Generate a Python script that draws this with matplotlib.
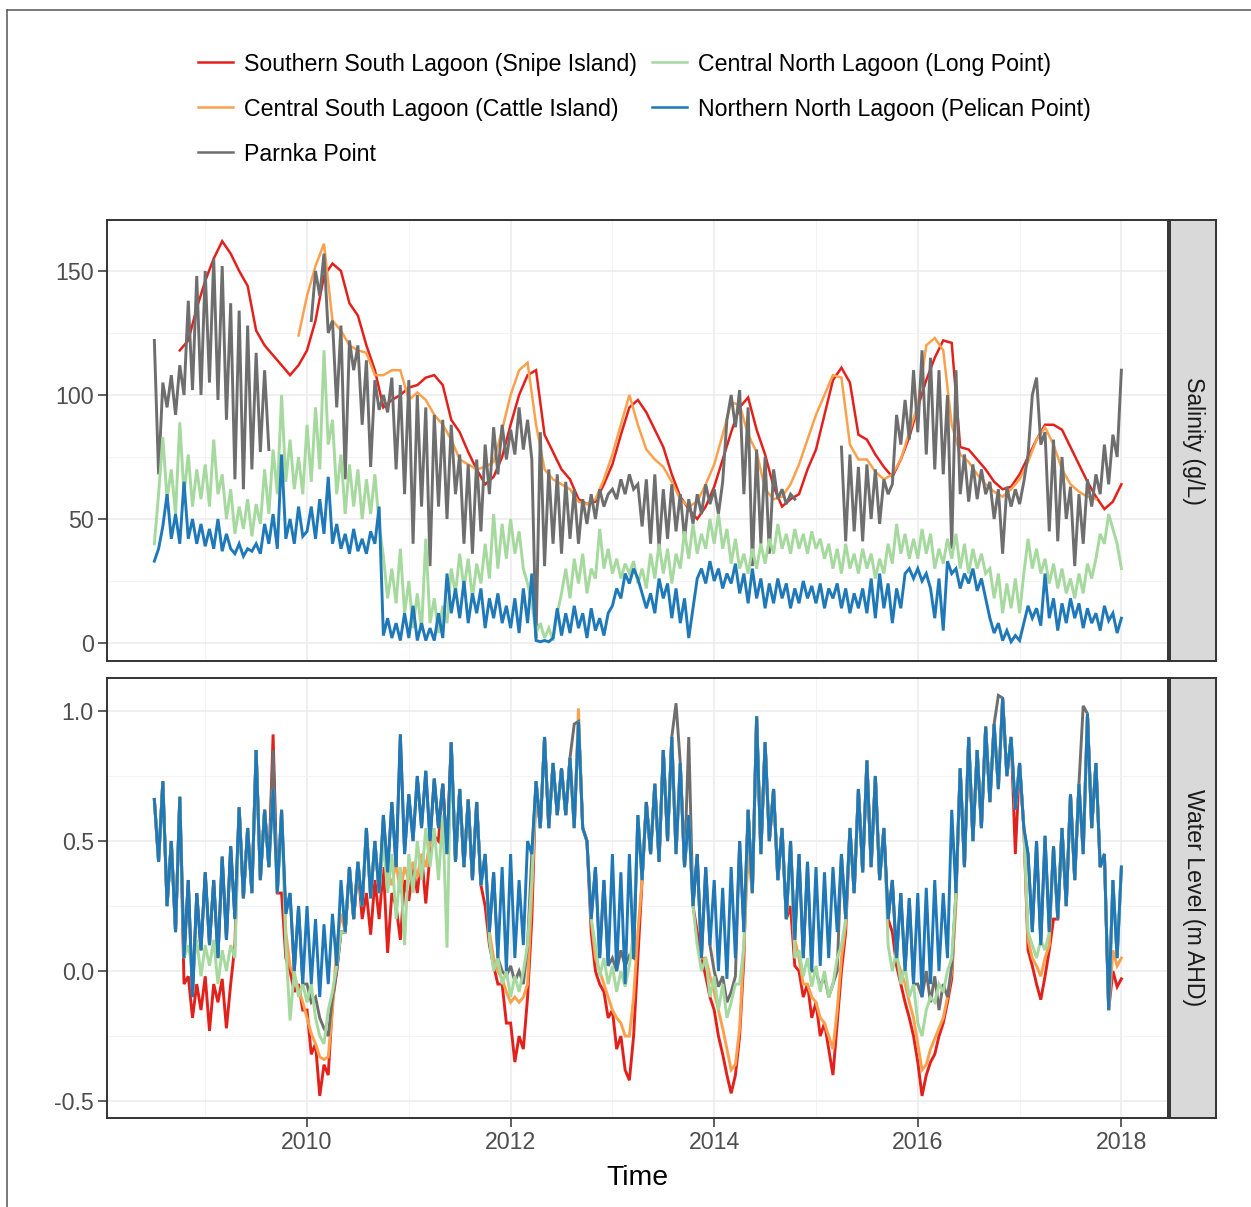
import numpy as np
import matplotlib
matplotlib.use("Agg")
import matplotlib.pyplot as plt
from matplotlib.lines import Line2D

plt.rcParams['font.family'] = ['Liberation Sans', 'DejaVu Sans']

# ---------------- data ----------------
sites = ["Southern South Lagoon (Snipe Island)",
         "Central South Lagoon (Cattle Island)",
         "Parnka Point",
         "Central North Lagoon (Long Point)",
         "Northern North Lagoon (Pelican Point)"]
site_colors = ["#E3211C", "#FBA14D", "#6E6E6E", "#A5D99E", "#1F78B8"]

# time samples (decimal years)
t_half = 2008.5 + np.arange(229) / 24.0
t_month = 2008.5 + np.arange(115) / 12.0

N = None
# Salinity (g/L) - smooth series, monthly
sal_snipe = [N, N, N, 118, 122, 135,
             146, 155, 162, 157, 150, 144, 126, 120, 116, 112, 108, 112,
             118, 130, 148, 153, 150, 137, 132, 120, 110, 95, 98, 100,
             103, 104, 107, 108, 104, 90, 85, 77, 70, 64, 67, 75,
             88, 100, 108, 110, 84, 77, 70, 66, 58, 56, 57, 64,
             72, 84, 95, 98, 93, 86, 79, 68, 59, 54, 50, 55,
             63, 74, 85, 95, 99, 86, 76, 63, 55, 58, 60, 70,
             78, 92, 106, 111, 105, 84, 82, 76, 71, 67, 74, 83,
             95, 106, 115, 122, 121, 79, 78, 74, 70, 65, 62, 63,
             68, 75, 82, 88, 88, 86, 79, 72, 65, 59, 54, 57,
             64]
sal_cattle = [N, N, N, N, N, N,
              N, N, N, N, N, N, N, N, N, N, N, 124,
              140, 152, 161, 130, 126, 120, 118, 117, 108, 108, 110, 110,
              98, 101, 98, 92, 88, 82, 74, 72, 70, 71, 73, 86,
              100, 110, 113, 88, 70, 66, 64, 62, 57, 56, 58, 66,
              76, 88, 100, 88, 78, 74, 71, 65, 58, 55, 57, 64,
              72, 84, 97, 96, 84, 77, 62, 58, 59, 64, 72, 82,
              92, 100, 108, 107, 80, 74, 74, 69, 66, 68, 74, 85,
              96, 120, 123, 118, 88, 76, 73, 68, 64, 61, 59, 62,
              66, 73, 82, 87, 80, 70, 64, 61, 59, 58, N, N,
              N]
# Salinity - noisy series, half-monthly
sal_parnka = [122, 68, 105, 95, 108, 92, 112, 100, 138, 102, 148, 100,
              150, 105, 155, 98, 152, 90, 137, 66, 134, 62, 128, 70, 117, 77, 110, 78, N, N, N, N, N, N, N, N,
              N, 130, 150, 140, 157, 125, 130, 95, 128, 66, 122, 110, 120, 88, 114, 71, 106, 94, 100, 93, 107, 70, 104, 60,
              106, 40, 100, 55, 95, 31, 92, 55, 90, 50, 88, 60, 76, 40, 72, 36, 74, 45, 80, 60, 87, 68, 88, 74,
              86, 76, 95, 78, 90, 74, 2, 85, 31, 70, 40, 68, 36, 65, 42, 62, 40, 58, 48, 60, 50, 62, 55, 60,
              62, 58, 66, 60, 68, 62, 64, 47, 66, 40, 68, 38, 62, 42, 64, 45, 60, 42, 58, 48, 60, 52, 64, 56,
              62, 52, 65, 90, 100, 87, 102, 60, 95, 31, 78, 40, 75, 36, 70, 58, 62, 56, 60, 58, N, N, N, N,
              N, N, N, N, N, N, 79, 41, 76, 45, 71, 41, 72, 50, 70, 48, 66, 60, 64, 92, 80, 98, 82, 110,
              85, 118, 76, 115, 70, 110, 68, 100, 38, 110, 60, 76, 57, 72, 58, 70, 60, 65, 50, 62, 36, 63, 55, 62,
              56, 65, 76, 100, 107, 80, 85, 45, 82, 41, 75, 50, 63, 31, 60, 40, 66, 55, 68, 60, 80, 64, 84, 75,
              110]
sal_long = [40, 60, 83, 58, 70, 52, 89, 60, 76, 55, 70, 58,
            72, 55, 82, 60, 68, 50, 62, 44, 55, 46, 58, 43, 56, 48, 70, 52, 78, 60, 100, 65, 82, 62, 75, 60,
            88, 65, 95, 70, 118, 80, 90, 60, 76, 52, 72, 55, 70, 50, 66, 52, 68, 48, 35, 18, 30, 16, 38, 12,
            25, 6, 20, 5, 42, 8, 18, 4, 15, 8, 30, 20, 36, 22, 34, 18, 32, 24, 40, 26, 52, 30, 48, 34,
            50, 36, 45, 30, 24, 16, 4, 8, 2, 6, 1, 12, 20, 30, 18, 34, 24, 36, 20, 30, 26, 46, 30, 38,
            28, 34, 26, 32, 28, 33, 24, 30, 22, 36, 26, 40, 28, 38, 24, 36, 30, 45, 34, 48, 36, 44, 38, 50,
            40, 52, 38, 46, 32, 42, 30, 36, 28, 38, 30, 40, 32, 42, 36, 48, 38, 44, 36, 46, 38, 44, 36, 45,
            38, 42, 34, 40, 30, 38, 28, 40, 30, 36, 28, 38, 30, 36, 26, 34, 28, 40, 32, 48, 36, 44, 34, 42,
            34, 46, 36, 44, 30, 38, 32, 42, 34, 44, 30, 40, 28, 38, 30, 36, 28, 30, 18, 28, 12, 24, 14, 26,
            12, 28, 42, 30, 38, 28, 34, 24, 32, 22, 30, 20, 26, 18, 28, 20, 32, 26, 34, 44, 40, 52, 46, 40,
            30]
sal_pelican = [33, 38, 47, 60, 42, 52, 40, 65, 42, 50, 40, 48,
               39, 46, 38, 50, 37, 44, 38, 36, 40, 35, 38, 37, 40, 36, 48, 40, 52, 38, 76, 42, 50, 40, 55, 43,
               45, 55, 42, 58, 44, 67, 40, 48, 38, 44, 36, 46, 37, 42, 36, 45, 40, 55, 3, 10, 2, 8, 1, 12,
               2, 15, 1, 8, 1, 6, 1, 12, 2, 28, 12, 22, 10, 25, 8, 20, 12, 22, 6, 18, 10, 20, 8, 15,
               6, 18, 4, 22, 8, 28, 1, 0.5, 1, 0.5, 2, 14, 3, 12, 4, 15, 6, 12, 2, 14, 5, 10, 3, 12,
               15, 22, 18, 28, 24, 30, 26, 20, 14, 20, 12, 26, 18, 24, 10, 22, 8, 18, 2, 14, 26, 30, 24, 33,
               25, 30, 22, 28, 24, 32, 20, 28, 16, 30, 18, 26, 14, 24, 16, 26, 18, 24, 14, 22, 16, 25, 18, 23,
               16, 24, 14, 22, 18, 24, 14, 22, 12, 20, 14, 22, 12, 26, 10, 28, 14, 24, 8, 22, 14, 28, 30, 26,
               30, 25, 28, 22, 10, 26, 5, 33, 28, 30, 22, 28, 24, 30, 21, 26, 18, 10, 4, 8, 1, 5, 0.5, 3,
               1, 8, 15, 10, 14, 7, 28, 10, 18, 5, 16, 8, 18, 10, 16, 6, 14, 8, 12, 5, 15, 9, 12, 4,
               10]

# Water level (m AHD), half-monthly
wl_snipe = [0.66, 0.42, 0.73, 0.25, 0.50, 0.15, 0.67, -0.05, -0.02, -0.18, -0.05, -0.15,
            -0.02, -0.23, -0.05, -0.12, -0.03, -0.22, -0.05, 0.10, 0.63, 0.28, 0.55, 0.30, 0.85, 0.35, 0.62, 0.40, 0.91, 0.30, 0.30, 0.05, 0.00, -0.08, -0.05, -0.15,
            -0.15, -0.32, -0.28, -0.48, -0.36, -0.40, -0.12, 0.00, 0.15, 0.15, 0.40, 0.20, 0.40, 0.20, 0.30, 0.14, 0.35, 0.20, 0.40, 0.07, 0.30, 0.25, 0.12, 0.35,
            0.27, 0.40, 0.30, 0.45, 0.26, 0.45, 0.52, 0.50, 0.72, 0.45, 0.88, 0.42, 0.70, 0.40, 0.66, 0.35, 0.65, 0.33, 0.25, 0.10, 0.02, -0.05, -0.05, -0.20,
            -0.20, -0.35, -0.25, -0.30, -0.10, 0.20, 0.73, 0.55, 0.90, 0.55, 0.80, 0.60, 0.78, 0.60, 0.82, 0.55, 0.96, 0.55, 0.50, 0.15, 0.00, -0.05, -0.08, -0.18,
            -0.15, -0.30, -0.25, -0.38, -0.42, -0.25, 0.05, 0.35, 0.65, 0.45, 0.72, 0.42, 0.85, 0.50, 0.90, 0.45, 0.80, 0.40, 0.60, 0.25, 0.15, 0.05, -0.02, -0.10,
            -0.15, -0.25, -0.32, -0.40, -0.47, -0.40, -0.25, 0.05, 0.62, 0.30, 0.98, 0.45, 0.88, 0.50, 0.70, 0.35, 0.55, 0.20, 0.25, 0.02, 0.00, -0.10, -0.05, -0.18,
            -0.12, -0.25, -0.20, -0.30, -0.40, -0.20, 0.00, 0.15, 0.55, 0.30, 0.70, 0.38, 0.81, 0.40, 0.75, 0.35, 0.55, 0.20, 0.15, 0.02, -0.05, -0.12, -0.18, -0.25,
            -0.35, -0.48, -0.40, -0.35, -0.32, -0.25, -0.20, -0.12, -0.03, 0.30, 0.78, 0.40, 0.90, 0.50, 0.85, 0.55, 0.94, 0.65, 0.95, 0.70, 1.05, 0.75, 0.90, 0.45,
            0.80, 0.55, 0.08, 0.02, -0.05, -0.11, -0.02, 0.08, 0.20, 0.20, 0.55, 0.25, 0.68, 0.35, 0.72, 0.45, 0.99, 0.55, 0.80, 0.40, 0.45, -0.15, 0.00, -0.06,
            -0.03]
wl_cattle = [0.66, 0.42, 0.73, 0.25, 0.50, 0.15, 0.67, 0.05, 0.35, -0.10, 0.30, 0.08,
             0.38, 0.10, 0.35, 0.05, 0.44, 0.12, 0.48, 0.20, 0.63, 0.28, 0.55, 0.30, 0.85, 0.35, 0.62, 0.40, 0.70, 0.30, 0.62, 0.15, 0.02, -0.02, -0.07, -0.12,
             -0.18, -0.24, -0.28, -0.33, -0.34, -0.33, -0.15, 0.10, 0.22, 0.15, 0.40, 0.20, 0.42, 0.25, 0.55, 0.28, 0.50, 0.30, 0.50, 0.38, 0.33, 0.42, 0.30, 0.40,
             0.35, 0.42, 0.36, 0.45, 0.40, 0.50, 0.74, 0.55, 0.72, 0.45, 0.88, 0.42, 0.70, 0.40, 0.66, 0.35, 0.65, 0.33, 0.45, 0.15, 0.05, 0.00, -0.03, -0.08,
             -0.12, -0.10, -0.12, -0.10, -0.05, 0.30, 0.73, 0.55, 0.90, 0.55, 0.80, 0.60, 0.78, 0.60, 0.82, 0.55, 1.01, 0.55, 0.50, 0.20, 0.05, 0.00, -0.05, -0.10,
             -0.15, -0.18, -0.20, -0.25, -0.25, -0.10, 0.15, 0.35, 0.65, 0.45, 0.72, 0.42, 0.85, 0.50, 0.90, 0.45, 0.80, 0.40, 0.60, 0.25, 0.45, 0.05, 0.05, -0.02,
             -0.08, -0.15, -0.22, -0.30, -0.38, -0.36, -0.22, 0.10, 0.45, 0.30, 0.98, 0.45, 0.88, 0.50, 0.70, 0.35, 0.55, 0.20, 0.50, 0.12, 0.05, -0.05, -0.05, -0.10,
             -0.12, -0.18, -0.20, -0.25, -0.30, -0.15, 0.05, 0.18, 0.55, 0.30, 0.70, 0.38, 0.81, 0.40, 0.75, 0.35, 0.55, 0.20, 0.35, 0.05, 0.00, -0.05, -0.12, -0.18,
             -0.28, -0.38, -0.36, -0.30, -0.26, -0.22, -0.18, -0.10, 0.00, 0.25, 0.78, 0.40, 0.90, 0.50, 0.85, 0.55, 0.94, 0.65, 0.95, 0.70, 1.05, 0.75, 0.90, 0.62,
             0.80, 0.55, 0.12, 0.05, 0.02, -0.02, 0.05, 0.10, 0.48, 0.20, 0.55, 0.25, 0.68, 0.35, 0.72, 0.45, 0.99, 0.55, 0.80, 0.40, 0.45, -0.15, 0.08, 0.02,
             0.05]
wl_parnka = [0.66, 0.42, 0.73, 0.25, 0.50, 0.15, 0.67, 0.05, 0.35, -0.10, 0.30, 0.08,
             0.38, 0.10, 0.35, 0.05, 0.44, 0.12, 0.48, 0.20, 0.63, 0.28, 0.55, 0.30, 0.85, 0.35, 0.62, 0.40, 0.85, 0.30, 0.62, 0.22, 0.30, 0.00, 0.25, -0.05,
             -0.05, -0.12, -0.10, -0.18, -0.22, -0.25, -0.10, 0.00, 0.15, 0.15, 0.40, 0.20, 0.42, 0.25, 0.55, 0.28, 0.50, 0.30, 0.60, 0.38, 0.65, 0.40, 0.91, 0.45,
             0.68, 0.50, 0.75, 0.55, 0.77, 0.50, 0.74, 0.55, 0.72, 0.45, 0.88, 0.42, 0.70, 0.40, 0.66, 0.35, 0.65, 0.33, 0.45, 0.15, 0.38, 0.05, 0.00, -0.02,
             0.02, -0.04, 0.00, -0.05, 0.10, 0.45, 0.73, 0.55, 0.90, 0.55, 0.80, 0.60, 0.78, 0.60, 0.82, 0.95, 0.96, 0.55, 0.50, 0.20, 0.40, 0.05, 0.35, 0.02,
             0.05, 0.00, 0.08, 0.02, 0.06, 0.05, 0.60, 0.35, 0.65, 0.45, 0.72, 0.42, 0.85, 0.50, 0.90, 1.03, 0.80, 0.40, 0.90, 0.25, 0.45, 0.05, 0.40, 0.10,
             0.00, -0.06, -0.02, -0.12, -0.08, -0.02, 0.50, 0.15, 0.62, 0.30, 0.98, 0.45, 0.88, 0.50, 0.70, 0.35, 0.55, 0.20, 0.50, 0.12, 0.45, 0.05, 0.42, 0.00,
             0.00, -0.06, -0.02, -0.10, -0.05, 0.00, 0.45, 0.20, 0.55, 0.30, 0.70, 0.38, 0.81, 0.40, 0.75, 0.35, 0.55, 0.20, 0.35, 0.05, 0.30, 0.00, 0.28, -0.05,
             -0.05, -0.10, 0.00, -0.12, -0.02, -0.15, -0.05, -0.10, 0.02, 0.30, 0.78, 0.40, 0.90, 0.50, 0.85, 0.55, 0.94, 0.65, 0.95, 1.06, 1.05, 0.75, 0.90, 0.62,
             0.80, 0.55, 0.45, 0.15, 0.50, 0.10, 0.52, 0.15, 0.48, 0.20, 0.55, 0.25, 0.68, 0.35, 0.72, 1.02, 0.99, 0.55, 0.80, 0.40, 0.45, -0.15, 0.35, 0.05,
             0.40]
wl_long = [0.66, 0.42, 0.73, 0.25, 0.50, 0.15, 0.67, 0.05, 0.10, 0.00, 0.12, -0.02,
           0.10, 0.02, 0.12, -0.05, 0.08, 0.00, 0.10, 0.05, 0.63, 0.28, 0.55, 0.30, 0.85, 0.35, 0.62, 0.40, 0.70, 0.30, 0.62, 0.10, -0.19, 0.00, -0.10, -0.05,
           -0.12, -0.05, -0.18, -0.25, -0.28, -0.15, -0.08, 0.02, 0.15, 0.15, 0.40, 0.20, 0.42, 0.25, 0.55, 0.28, 0.50, 0.30, 0.50, 0.30, 0.45, 0.20, 0.40, 0.10,
           0.45, 0.30, 0.50, 0.35, 0.55, 0.40, 0.55, 0.35, 0.60, 0.09, 0.88, 0.42, 0.70, 0.40, 0.66, 0.35, 0.65, 0.33, 0.45, 0.12, 0.00, 0.05, -0.05, 0.00,
           -0.10, -0.02, -0.08, 0.00, 0.10, 0.35, 0.73, 0.55, 0.90, 0.55, 0.80, 0.60, 0.78, 0.60, 0.82, 0.55, 0.96, 0.55, 0.50, 0.20, 0.10, -0.02, 0.05, -0.05,
           0.02, -0.08, 0.00, -0.06, 0.02, 0.15, 0.60, 0.35, 0.65, 0.45, 0.72, 0.42, 0.85, 0.50, 0.90, 0.45, 0.80, 0.40, 0.60, 0.25, 0.10, 0.00, 0.05, -0.10,
           -0.02, -0.15, -0.05, -0.18, -0.12, -0.05, -0.05, 0.10, 0.62, 0.30, 0.98, 0.45, 0.88, 0.50, 0.70, 0.35, 0.55, 0.20, 0.50, 0.05, 0.08, -0.02, 0.05, -0.06,
           0.02, -0.08, 0.00, -0.10, -0.05, 0.05, 0.10, 0.20, 0.55, 0.30, 0.70, 0.38, 0.81, 0.40, 0.75, 0.35, 0.55, 0.10, 0.00, 0.08, -0.05, 0.02, -0.10, -0.05,
           -0.20, -0.25, -0.15, -0.10, -0.12, -0.05, -0.08, 0.00, 0.05, 0.30, 0.78, 0.40, 0.90, 0.50, 0.85, 0.55, 0.94, 0.65, 0.95, 0.70, 1.05, 0.75, 0.90, 0.62,
           0.80, 0.55, 0.15, 0.10, 0.05, 0.12, 0.08, 0.15, 0.48, 0.20, 0.55, 0.25, 0.68, 0.35, 0.72, 0.45, 0.99, 0.55, 0.80, 0.40, 0.45, -0.15, 0.35, 0.05,
           0.40]
wl_pelican = [0.66, 0.42, 0.73, 0.25, 0.50, 0.15, 0.67, 0.05, 0.35, -0.10, 0.30, 0.08,
              0.38, 0.10, 0.35, 0.05, 0.44, 0.12, 0.48, 0.20, 0.63, 0.28, 0.55, 0.30, 0.85, 0.35, 0.62, 0.40, 0.70, 0.30, 0.62, 0.22, 0.30, 0.00, 0.25, -0.05,
              0.25, -0.05, 0.20, -0.10, 0.18, -0.05, 0.22, 0.02, 0.35, 0.15, 0.40, 0.20, 0.42, 0.25, 0.55, 0.28, 0.50, 0.30, 0.60, 0.38, 0.65, 0.40, 0.91, 0.45,
              0.68, 0.50, 0.75, 0.55, 0.77, 0.50, 0.74, 0.55, 0.72, 0.45, 0.88, 0.42, 0.70, 0.40, 0.66, 0.35, 0.65, 0.33, 0.45, 0.15, 0.38, 0.05, 0.40, 0.00,
              0.45, 0.05, 0.35, 0.10, 0.50, 0.45, 0.73, 0.55, 0.90, 0.55, 0.80, 0.60, 0.78, 0.60, 0.82, 0.55, 0.96, 0.55, 0.50, 0.20, 0.40, 0.05, 0.35, 0.02,
              0.45, 0.00, 0.38, -0.05, 0.45, 0.05, 0.60, 0.35, 0.65, 0.45, 0.72, 0.42, 0.85, 0.50, 0.90, 0.45, 0.80, 0.40, 0.60, 0.25, 0.45, 0.05, 0.40, 0.10,
              0.35, 0.00, 0.32, -0.03, 0.40, 0.05, 0.50, 0.15, 0.62, 0.30, 0.98, 0.45, 0.88, 0.50, 0.70, 0.35, 0.55, 0.20, 0.50, 0.12, 0.45, 0.05, 0.42, 0.00,
              0.40, 0.02, 0.38, 0.05, 0.40, 0.15, 0.45, 0.20, 0.55, 0.30, 0.70, 0.38, 0.81, 0.40, 0.75, 0.35, 0.55, 0.20, 0.35, 0.05, 0.30, 0.00, 0.28, -0.05,
              0.30, -0.10, 0.32, -0.05, 0.35, 0.00, 0.30, 0.05, 0.62, 0.30, 0.78, 0.40, 0.90, 0.50, 0.85, 0.55, 0.94, 0.65, 0.95, 0.70, 1.05, 0.75, 0.90, 0.62,
              0.80, 0.55, 0.45, 0.15, 0.50, 0.10, 0.52, 0.15, 0.48, 0.20, 0.55, 0.25, 0.68, 0.35, 0.72, 0.45, 0.99, 0.55, 0.80, 0.40, 0.45, -0.15, 0.35, 0.05,
              0.40]

x_ticks = [2010, 2012, 2014, 2016, 2018]
sal_ticks = [0, 50, 100, 150]
sal_tick_labels = ["0", "50", "100", "150"]
wl_ticks = [-0.5, 0.0, 0.5, 1.0]
wl_tick_labels = ["-0.5", "0.0", "0.5", "1.0"]
panel_labels = ["Salinity (g/L)", "Water Level (m AHD)"]
x_title = "Time"

# ---------------- layout ----------------
W, H = 1251, 1207
fig = plt.figure(figsize=(W / 100, H / 100), dpi=100)
fig.patch.set_facecolor("white")


def fx(px):
    return px / W


def fy(py):
    return 1 - py / H


FS = 16.7
LW_SMOOTH = 1.8
LW_NOISY = 2.1
PL, PR = 107, 1168
ax1 = fig.add_axes([fx(PL), fy(661), fx(PR) - fx(PL), fy(220) - fy(661)])
ax2 = fig.add_axes([fx(PL), fy(1118), fx(PR) - fx(PL), fy(678) - fy(1118)])

sal_series = [(t_month, sal_snipe, LW_SMOOTH), (t_month, sal_cattle, LW_SMOOTH),
              (t_half, sal_parnka, LW_NOISY), (t_half, sal_long, LW_NOISY),
              (t_half, sal_pelican, LW_NOISY)]
wl_series = [wl_snipe, wl_cattle, wl_parnka, wl_long, wl_pelican]

for (tt, vals, lw), col in zip(sal_series, site_colors):
    ax1.plot(tt, np.array(vals, dtype=float), color=col, lw=lw,
             solid_joinstyle="miter")
for vals, col in zip(wl_series, site_colors):
    ax2.plot(t_half, np.array(vals, dtype=float), color=col, lw=LW_NOISY,
             solid_joinstyle="miter")

xlim = (2008.035, 2018.458)
for ax in (ax1, ax2):
    ax.set_xlim(*xlim)
    ax.set_facecolor("white")
    ax.set_xticks(x_ticks)
    ax.set_xticks([2009, 2011, 2013, 2015, 2017], minor=True)
    ax.grid(which="major", color="#EBEBEB", lw=1.1)
    ax.grid(which="minor", color="#F3F3F3", lw=0.6)
    ax.set_axisbelow(True)
    for sp in ax.spines.values():
        sp.set_color("#333333")
        sp.set_linewidth(1.4)
    ax.tick_params(which="major", direction="out", length=6.5, width=1.1,
                   color="#333333", labelcolor="#4D4D4D", labelsize=FS, pad=3)
    ax.tick_params(which="minor", length=0)

ax1.set_ylim(-7.26, 170.56)
ax1.set_yticks(sal_ticks)
ax1.set_yticklabels(sal_tick_labels)
ax1.set_yticks([25, 75, 125], minor=True)
ax1.tick_params(axis="x", which="both", bottom=False, labelbottom=False)

ax2.set_ylim(-0.565, 1.127)
ax2.set_yticks(wl_ticks)
ax2.set_yticklabels(wl_tick_labels)
ax2.set_yticks([-0.25, 0.25, 0.75], minor=True)
ax2.set_xticklabels([str(v) for v in x_ticks])

# facet strips
for (top, bot), lab in zip([(220, 661), (678, 1118)], panel_labels):
    sax = fig.add_axes([fx(1170), fy(bot), fx(1216) - fx(1170), fy(top) - fy(bot)])
    sax.set_facecolor("#D9D9D9")
    sax.set_xticks([])
    sax.set_yticks([])
    for sp in sax.spines.values():
        sp.set_color("#333333")
        sp.set_linewidth(1.4)
    sax.text(0.5, 0.5, lab, rotation=-90, ha="center", va="center",
             fontsize=FS, color="#1A1A1A", transform=sax.transAxes)

# axis title
fig.text(fx(637), fy(1178), x_title, ha="center", va="center", fontsize=20.4, color="black")

# legend (column-wise, as in the original)
legend_pos = [(198, 62), (198, 107), (198, 152), (652, 62), (652, 107)]
for (kx, ky), name, col in zip(legend_pos, sites, site_colors):
    fig.add_artist(Line2D([fx(kx), fx(kx + 35)], [fy(ky), fy(ky)],
                          transform=fig.transFigure, color=col, lw=LW_SMOOTH))
    fig.text(fx(kx + 46), fy(ky), name, ha="left", va="center_baseline",
             fontsize=FS, color="black")

# outer frame
fig.add_artist(Line2D([fx(7), fx(7)], [0, fy(10)], transform=fig.transFigure,
                      color="#555555", lw=1.1))
fig.add_artist(Line2D([fx(7), 1], [fy(10), fy(10)], transform=fig.transFigure,
                      color="#555555", lw=1.1))

fig.savefig("out.png", dpi=100, facecolor="white")
